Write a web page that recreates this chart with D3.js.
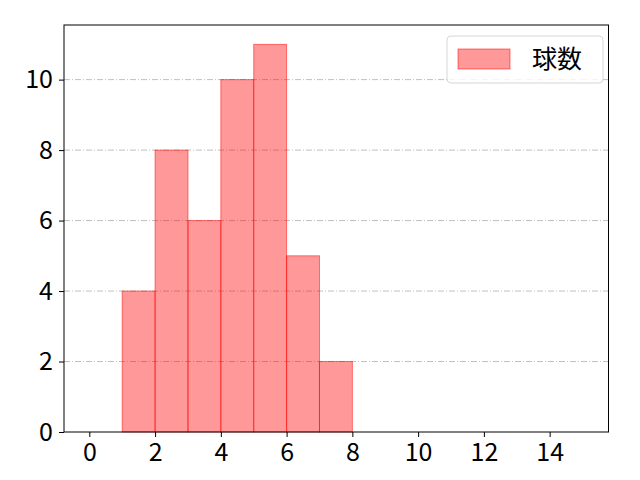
<!DOCTYPE html>
<html>
<head>
<meta charset="utf-8">
<script src="https://cdn.jsdelivr.net/npm/d3@7"></script>
<style>
  body { margin: 0; background: #fff; }
  text { font-family: "Noto Sans CJK JP", "Noto Sans", sans-serif; }
</style>
</head>
<body>
<script>
// histogram bins (left edge) and counts
let binStarts = [1, 2, 3, 4, 5, 6, 7];
let counts = [4, 8, 6, 10, 11, 5, 2];
let xTicks = [0, 2, 4, 6, 8, 10, 12, 14];
let yTicks = [0, 2, 4, 6, 8, 10];
let seriesName = '球数';

let width = 640, height = 480;
let plotL = 64, plotR = 608.5, plotT = 25, plotB = 432;

let svg = d3.select('body').append('svg').attr('width', width).attr('height', height);

let x = d3.scaleLinear().domain([-0.77, 15.79]).range([plotL, plotR]);
let y = d3.scaleLinear().domain([0, 11.55]).range([plotB, plotT]);

// grid
svg.append('g').selectAll('line').data(yTicks.slice(1)).enter().append('line')
  .attr('x1', plotL).attr('x2', plotR)
  .attr('y1', d => y(d)).attr('y2', d => y(d))
  .attr('stroke', '#b0b0b0').attr('stroke-width', 0.8)
  .attr('stroke-dasharray', '6,2,1,2');

// bars
svg.append('g').selectAll('rect').data(binStarts).enter().append('rect')
  .attr('x', d => x(d))
  .attr('y', (d, i) => y(counts[i]))
  .attr('width', d => x(d + 1) - x(d))
  .attr('height', (d, i) => y(0) - y(counts[i]))
  .attr('fill', 'rgba(255,0,0,0.4)')
  .attr('stroke', 'rgba(255,0,0,0.5)')
  .attr('stroke-width', 1);

// axes
let xAxis = svg.append('g').attr('transform', 'translate(0,' + plotB + ')')
  .call(d3.axisBottom(x).tickValues(xTicks).tickSize(5).tickFormat(d3.format('d')));
let yAxis = svg.append('g').attr('transform', 'translate(' + plotL + ',0)')
  .call(d3.axisLeft(y).tickValues(yTicks).tickSize(5).tickPadding(6).tickFormat(d3.format('d')));
[xAxis, yAxis].forEach(a => {
  a.attr('font-size', null).attr('font-family', null);
  a.select('.domain').remove();
  a.selectAll('text').style('font-size', '25px').attr('fill', '#000');
  a.selectAll('line').attr('stroke', '#000').attr('stroke-width', 1);
});
xAxis.selectAll('text').attr('dy', null).attr('y', 29);

// frame
svg.append('rect').attr('x', plotL).attr('y', plotT)
  .attr('width', plotR - plotL).attr('height', plotB - plotT)
  .attr('fill', 'none').attr('stroke', '#000').attr('stroke-width', 1);

// legend
let lg = svg.append('g');
lg.append('rect').attr('x', 447).attr('y', 36).attr('width', 156).attr('height', 47)
  .attr('rx', 4).attr('fill', 'rgba(255,255,255,0.8)').attr('stroke', '#d6d6d6');
lg.append('rect').attr('x', 458).attr('y', 49).attr('width', 52).attr('height', 20)
  .attr('fill', 'rgba(255,0,0,0.4)').attr('stroke', 'rgba(255,0,0,0.5)');
lg.append('text').attr('x', 532).attr('y', 68).text(seriesName)
  .style('font-size', '25px').attr('fill', '#000');
</script>
</body>
</html>
